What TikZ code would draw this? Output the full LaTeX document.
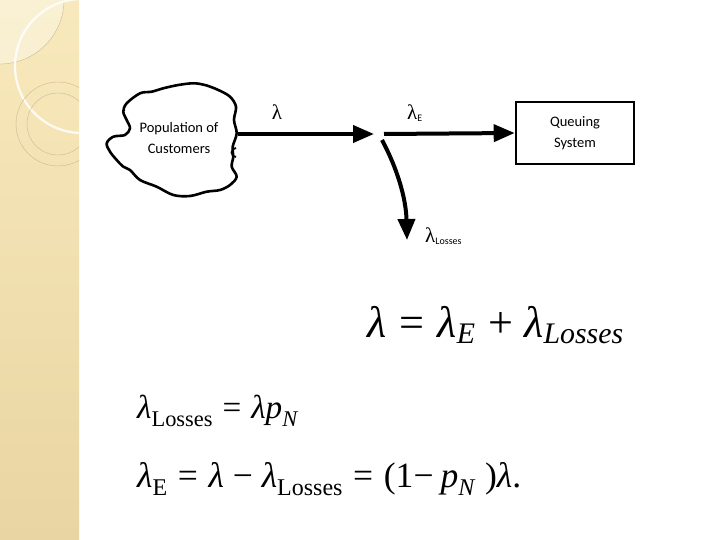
\documentclass[tikz,border=0pt]{standalone}
\usepackage{fontspec}
\usepackage{graphicx}
\usetikzlibrary{arrows.meta}
\newfontfamily\carl{Carlito}
\newfontfamily\lser{Liberation Serif}
\definecolor{stripTop}{RGB}{248,233,188}
\definecolor{stripBot}{RGB}{233,213,163}
\definecolor{tanline}{RGB}{205,185,145}
\newcommand{\lowsub}[2]{\raisebox{-#1}{\fontsize{27}{28}\selectfont #2}}
\tikzset{
  flow/.style={line width=4pt, -{Triangle[length=21pt,width=17pt]}},
  boxtxt/.style={font=\carl\fontsize{14.5}{21}\selectfont, align=center},
  lamlab/.style={font=\lser\fontsize{21}{22}\selectfont, inner sep=0pt},
  eq/.style={anchor=base west, inner sep=0pt, font=\lser\fontsize{40}{44}\selectfont}
}
\begin{document}
\begin{tikzpicture}[x=1pt,y=-1pt]
\useasboundingbox (0,0) rectangle (720,540);
\fill[white] (0,0) rectangle (720,540);
% left decorative strip
\shade[top color=stripTop, bottom color=stripBot] (0,0) rectangle (79,540);
\begin{scope}
  \clip (0,0) rectangle (79,540);
  \fill[white, opacity=0.35] (0,0) -- (64,0) arc[start angle=0, end angle=90, radius=64] -- cycle;
  \draw[tanline, line width=0.4pt] (64,0) arc[start angle=0, end angle=90, radius=64];
  \draw[white, line width=2.2pt, opacity=0.85] (82,66) circle[radius=67];
  \draw[tanline, line width=0.4pt] (58,124) circle[radius=42];
  \draw[tanline, line width=0.4pt] (58,124) circle[radius=31];
\end{scope}
% population blob
\draw[line width=2.6pt, line join=round] plot[smooth cycle, tension=0.55] coordinates {
 (126.7,103.3) (140,93.3) (151.7,91.7) (163.3,88.3) (178.3,85) (193.3,83.3) (205,85)
 (218.3,90) (230,96.7) (236,106.7) (234,120) (236.7,133.3) (232.7,146.7) (233.3,156.7)
 (231.7,166.7) (236.7,176.7) (230,185) (220,190) (206.7,191.7) (190,196) (173.3,195)
 (156.7,186.7) (140,180) (130,170) (123.3,166.7) (116.7,160) (110,151.7) (106.7,143.3)
 (113.3,136.7) (125,135) (130,128.3) (126.7,120) (123.3,111.7)};
\draw[line width=1.8pt] (236,148) arc[start angle=-90, end angle=-270, radius=4.5];
\node[boxtxt] (pop) at (179,138) {Population of\\Customers};
\coordinate (popE) at (238,134);
\coordinate (j1) at (374,134);
\coordinate (j2) at (384,134);
\coordinate (j3) at (382,140);
\coordinate (lossEnd) at (407,240);
% queuing system
\node[draw, line width=2.6pt, minimum width=118pt, minimum height=62pt, boxtxt] (queue) at (575,133) {Queuing\\System};
% arrows
\draw[flow] (popE) -- (j1);
\draw[flow] (j2) -- (queue.west);
\draw[flow] (j3) .. controls (397,168) and (406,198) .. (lossEnd);
% labels
\node[lamlab] (lam) at (277,112) {λ};
\node[lamlab, anchor=base west] (lamE) at (407,120) {λ\raisebox{-2pt}{\carl\fontsize{10}{11}\selectfont E}};
\node[lamlab, anchor=base west] (lamL) at (425,242) {λ\raisebox{-2pt}{\carl\fontsize{10}{11}\selectfont Losses}};
% equations
\node[eq] (eq1) at (367,337) {\resizebox{256pt}{!}{\itshape λ\hspace{0.3em}\upshape=\hspace{0.3em}\itshape λ\lowsub{6pt}{E}\hspace{0.3em}\upshape+\hspace{0.25em}\itshape λ\lowsub{6pt}{Losses}}};
\node[eq] (eq2) at (137,418) {\resizebox{160pt}{!}{\itshape λ\upshape\lowsub{10pt}{Losses}\hspace{0.3em}=\hspace{0.3em}\itshape λp\lowsub{10pt}{N}}};
\node[eq] (eq3) at (137,487) {\resizebox{384pt}{!}{\itshape λ\upshape\lowsub{10pt}{E}\hspace{0.3em}=\hspace{0.3em}\itshape λ\hspace{0.25em}\upshape−\hspace{0.25em}\itshape λ\upshape\lowsub{10pt}{Losses}\hspace{0.3em}=\hspace{0.3em}(1−\hspace{0.2em}\itshape p\lowsub{10pt}{N}\hspace{0.3em}\upshape)\itshape λ\upshape.}};
\end{tikzpicture}
\end{document}
